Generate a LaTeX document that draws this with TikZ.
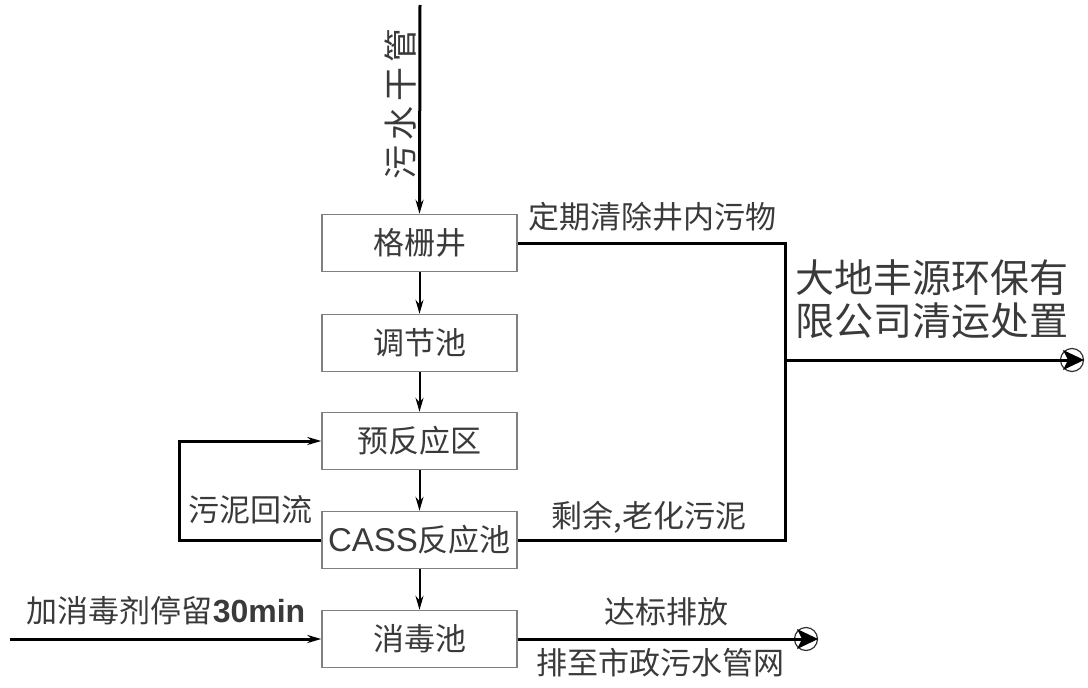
\documentclass[tikz,border=0pt]{standalone}
\usepackage{fontspec}
\setmainfont{Noto Sans CJK SC}
\newfontfamily\arialf{Liberation Sans}
\usetikzlibrary{arrows.meta}
\definecolor{txt}{HTML}{3A3A3A}
\begin{document}
\begin{tikzpicture}[x=1pt,y=-1pt,
  box/.style={draw=black!50, line width=1.4pt, minimum width=195pt, minimum height=57pt,
    inner sep=0pt, font=\fontsize{31}{33}\selectfont, text=txt},
  flow/.style={line width=3pt, black},
  thinflow/.style={line width=2pt, black},
  lbl/.style={font=\fontsize{31}{33}\selectfont, text=txt, inner sep=0pt},
  tip/.style={-{Stealth[length=14pt,width=8pt]}},
  endc/.style={circle, draw=black!80, line width=1.2pt, minimum size=23pt, inner sep=0pt},
  endtip/.style={fill=black}
]
\useasboundingbox (0,0) rectangle (1088,688);

% boxes
\node[box] (b1) at (419.5,243) {格栅井};
\node[box] (b2) at (419.5,343) {调节池};
\node[box] (b3) at (419.5,441) {预反应区};
\node[box] (b4) at (419.5,540) {{\arialf\fontsize{33}{35}\selectfont CASS}反应池};
\node[box] (b5) at (419.5,639) {消毒池};

% coordinates
\coordinate (in) at (420,5);
\coordinate (j1) at (785,243);
\coordinate (j2) at (785,540);
\coordinate (j3) at (785,360);
\coordinate (r1) at (179,540);
\coordinate (r2) at (179,441);
\coordinate (dis) at (10,639);
\node[endc] (c1) at (1072,360) {};
\node[endc] (c2) at (806,639) {};

% main flow
\draw[flow,tip] (in) -- (b1.north);
\draw[thinflow,tip] (b1.south) -- (b2.north);
\draw[thinflow,tip] (b2.south) -- (b3.north);
\draw[thinflow,tip] (b3.south) -- (b4.north);
\draw[thinflow,tip] (b4.south) -- (b5.north);

% sludge to disposal
\draw[flow] (b1.east) -- (j1) -- (j2) -- (b4.east);
\draw[flow] (j3) -- (c1.center);
\fill[endtip] (c1.east) -- ++(-21,-10) -- ++(5,10) -- ++(-5,10) -- cycle;

% sludge return
\draw[flow,tip] (b4.west) -- (r1) -- (r2) -- (b3.west);

% disinfectant
\draw[flow,tip] (dis) -- (b5.west);

% discharge
\draw[flow] (b5.east) -- (c2.center);
\fill[endtip] (c2.east) -- ++(-21,-10) -- ++(5,10) -- ++(-5,10) -- cycle;

% labels
\node[lbl, rotate=90, font=\fontsize{34}{36}\selectfont] (l0) at (401,104) {污\hspace{5pt}水\hspace{5pt}干\hspace{5pt}管};
\node[lbl] (l1) at (652,217) {定期清除井内污物};
\node[lbl, align=left, font=\fontsize{39}{43}\selectfont] (l2) at (932,299) {大地丰源环保有\\限公司清运处置};
\node[lbl] (l3) at (250,510) {污泥回流};
\node[lbl] (l4) at (649,517) {剩余,老化污泥};
\node[lbl] (l5) at (166,611) {加消毒剂停留{\arialf\bfseries\fontsize{32}{34}\selectfont 30min}};
\node[lbl] (l6) at (666,612) {达标排放};
\node[lbl] (l7) at (660,663) {排至市政污水管网};
\end{tikzpicture}
\end{document}
